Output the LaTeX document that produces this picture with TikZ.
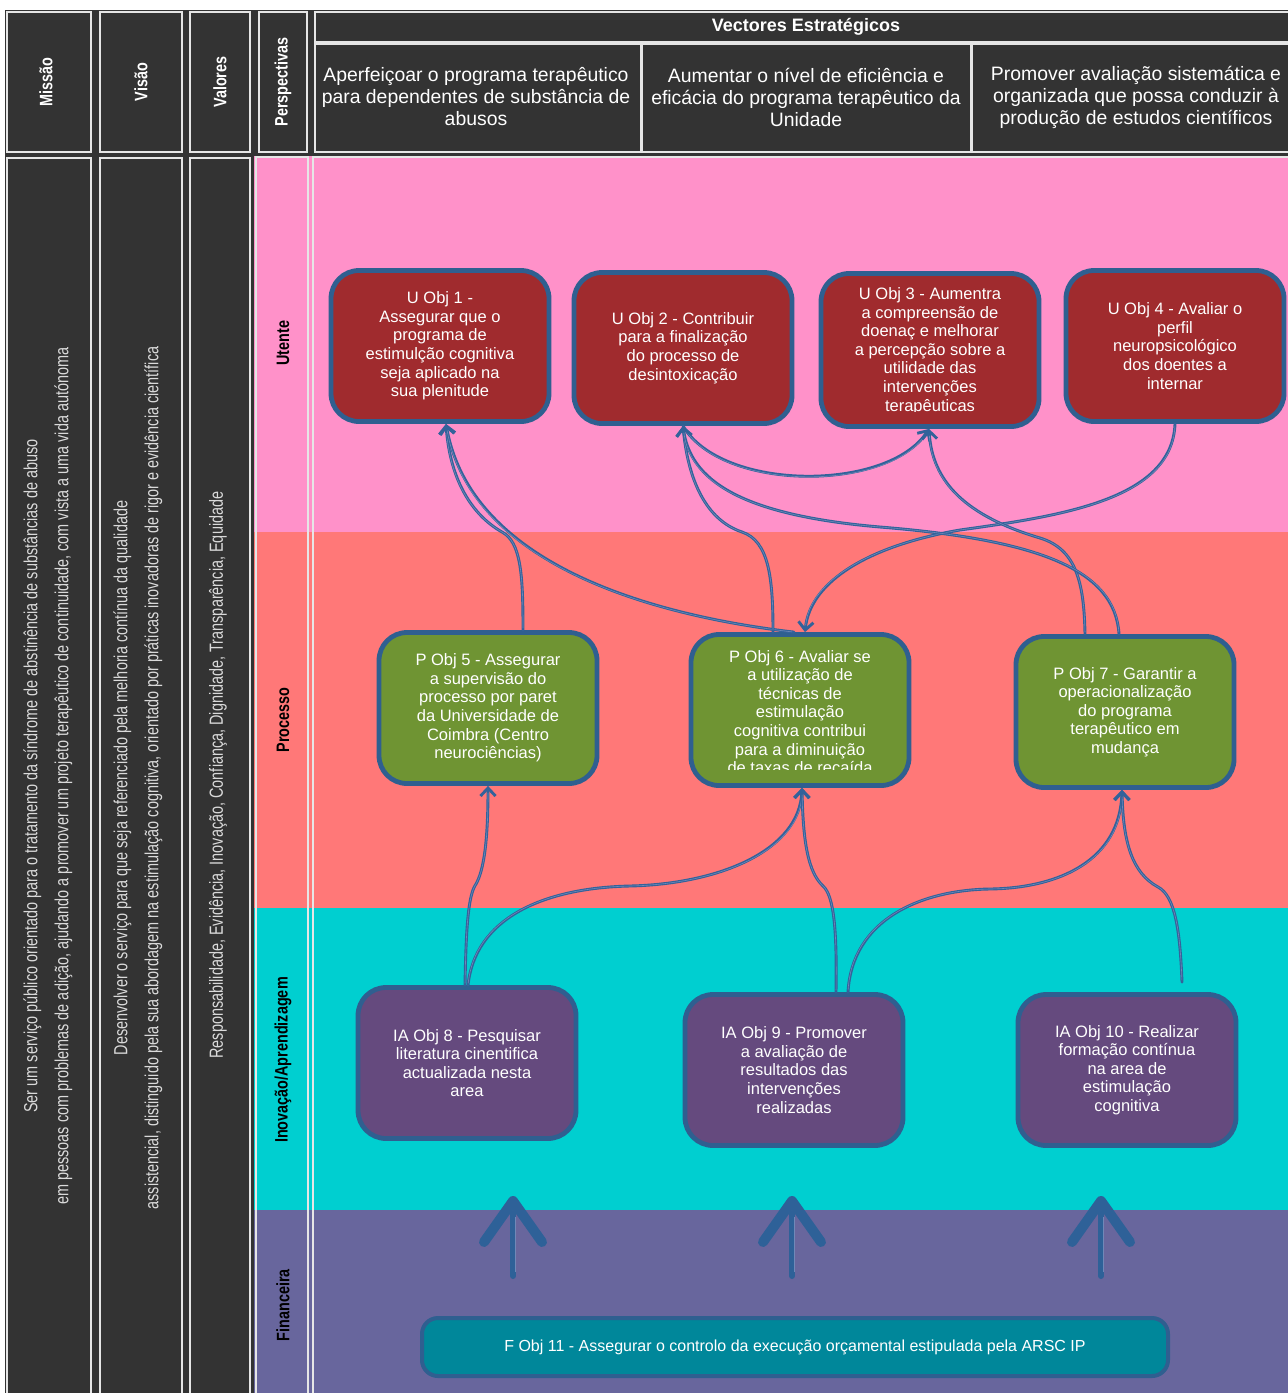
\documentclass[tikz,border=0pt]{standalone}
\usepackage{fontspec}
\setmainfont{Liberation Sans}
\newfontfamily\condfont[FakeStretch=0.8]{Liberation Sans}
\newfontfamily\condbody[FakeStretch=0.76]{Liberation Sans}
\usetikzlibrary{arrows.meta,calc}

\definecolor{dark}{HTML}{333333}
\definecolor{cellline}{HTML}{E6E6E6}
\definecolor{bandpink}{HTML}{FF91C9}
\definecolor{bandsalmon}{HTML}{FF7878}
\definecolor{bandcyan}{HTML}{00CFD0}
\definecolor{bandpurple}{HTML}{68669D}
\definecolor{ured}{HTML}{A02B2E}
\definecolor{pgreen}{HTML}{6F9433}
\definecolor{iapurple}{HTML}{654A7E}
\definecolor{fteal}{HTML}{00879A}
\definecolor{bord}{HTML}{2F5F90}
\definecolor{linec}{HTML}{33629A}
\definecolor{linelight}{HTML}{7088B8}
\definecolor{bigarrow}{HTML}{2E6198}
\definecolor{graytext}{HTML}{DADADA}

\begin{document}
\begin{tikzpicture}[x=1pt,y=-1pt,
  cell/.style={draw=cellline,line width=1.6pt},
  headtxt/.style={text=white,align=center,font=\fontsize{19.4}{22}\selectfont},
  colhead/.style={rotate=90,text=white,font=\condfont\bfseries\fontsize{18}{20}\selectfont},
  perslab/.style={rotate=90,text=black,font=\condfont\bfseries\fontsize{18}{20}\selectfont},
  bodytxt/.style={rotate=90,text=graytext,align=center,font=\condbody\fontsize{19}{31}\selectfont},
  obj/.style={rectangle,rounded corners=28pt,draw=bord,line width=4.8pt,
    minimum width=218pt,minimum height=151pt,inner sep=0pt,
    text=white,align=center,font=\fontsize{16.5}{18.6}\selectfont},
  uobj/.style={obj,fill=ured},
  pobj/.style={obj,fill=pgreen},
  iaobj/.style={obj,fill=iapurple},
  fobj/.style={obj,fill=fteal,rounded corners=16pt,minimum width=746pt,minimum height=58pt,line width=4pt},
  objtext/.style={text=white,align=center,font=\fontsize{16.5}{18.6}\selectfont},
  conn/.style={draw=linec,line width=2.9pt,line cap=round,
    -{Straight Barb[length=8pt,width=15pt]},
    postaction={draw=linelight,line width=0.6pt,shorten >=7pt,shorten <=2pt,-}},
  bigshaft/.style={draw=bigarrow,line width=6pt,line cap=round},
  bighead/.style={draw=bigarrow,line width=10pt,line cap=round,line join=round}
]
\useasboundingbox (0,0) rectangle (1288,1393);
\fill[white] (0,0) rectangle (1288,1393);
\fill[dark] (5,10) rectangle (1290,1395);

% perspective bands
\fill[bandpink]   (254,156) rectangle (1290,532);
\fill[bandsalmon] (254,532) rectangle (1290,908);
\fill[bandcyan]   (254,908) rectangle (1290,1210);
\fill[bandpurple] (254,1210) rectangle (1290,1395);

% header cells
\draw[cell] (7,12) rectangle (91,152);
\draw[cell] (100,12) rectangle (182,152);
\draw[cell] (190,12) rectangle (250,152);
\draw[cell] (259,12) rectangle (307,152);
\draw[cell] (315,12) rectangle (1295,42);
\draw[cell] (315,44) rectangle (641,152);
\draw[cell] (642,44) rectangle (971,152);
\draw[cell] (972,44) rectangle (1295,152);

% body cells
\draw[cell] (7,158) rectangle (91,1398);
\draw[cell] (100,158) rectangle (182,1398);
\draw[cell] (190,158) rectangle (250,1398);
\draw[cell] (256,157) rectangle (308,1398);
\draw[cell] (313,157) rectangle (1295,1398);

% column titles
\node[colhead] (hmissao) at (46,82) {Missão};
\node[colhead] (hvisao) at (141,82) {Visão};
\node[colhead] (hvalores) at (220,82) {Valores};
\node[colhead] (hpersp) at (283,82) {Perspectivas};
\node[text=white,font=\bfseries\fontsize{18}{20}\selectfont] (hvect) at (806,27) {Vectores Estratégicos};
\node[headtxt] (v1) at (476,97) {Aperfeiçoar o programa terapêutico\\para dependentes de substância de\\abusos};
\node[headtxt] (v2) at (806,97) {Aumentar o nível de eficiência e\\eficácia do programa terapêutico da\\Unidade};
\node[headtxt] (v3) at (1136,97) {Promover avaliação sistemática e\\organizada que possa conduzir à\\produção de estudos científicos};

% mission, vision, values
\node[bodytxt] (missao) at (48,776) {Ser um serviço público orientado para o tratamento da síndrome de abstinência de substâncias de abuso\\em pessoas com problemas de adição, ajudando a promover um projeto terapêutico de continuidade, com vista a uma vida autónoma};
\node[bodytxt] (visao) at (138,778) {Desenvolver o serviço para que seja referenciado pela melhoria contínua da qualidade\\assistencial, distinguido pela sua abordagem na estimulação cognitiva, orientado por práticas inovadoras de rigor e evidência científica};
\node[bodytxt] (valores) at (218,775) {Responsabilidade, Evidência, Inovação, Confiança, Dignidade, Transparência, Equidade};

% perspective labels
\node[perslab] (putente) at (283,343) {Utente};
\node[perslab] (pprocesso) at (283,720) {Processo};
\node[perslab] (pinov) at (283,1060) {Inovação/Aprendizagem};
\node[perslab] (pfin) at (283,1305) {Financeira};

% objectives
\node[uobj] (u1) at (440,346) {U Obj 1  -\\Assegurar que o\\programa de\\estimulção cognitiva\\seja aplicado na\\sua plenitude};
\node[uobj] (u2) at (683,348) {U Obj 2 - Contribuir\\para a finalização\\do processo de\\desintoxicação};
\node[uobj,minimum height=153pt] (u3) at (930,350) {};
\begin{scope}
  \clip ($(u3.south west)+(0,-17)$) rectangle (u3.north east);
  \node[objtext] (u3t) at (930,351) {U Obj 3 - Aumentra\\a compreensão de\\doenaç e melhorar\\a percepção sobre a\\utilidade das\\intervenções\\terapêuticas};
\end{scope}
\node[uobj] (u4) at (1175,346) {U Obj 4 - Avaliar o\\perfil\\neuropsicológico\\dos doentes a\\internar};

\node[pobj] (p5) at (488,708) {P Obj 5 - Assegurar\\a supervisão do\\processo por paret\\da Universidade de\\Coimbra (Centro\\neurociências)};
\node[pobj] (p6) at (800,710) {};
\begin{scope}
  \clip ($(p6.south west)+(0,-18)$) rectangle (p6.north east);
  \node[objtext] (p6t) at (800,712) {P Obj 6 - Avaliar se\\a utilização de\\técnicas de\\estimulação\\cognitiva  contribui\\para a diminuição\\de taxas de recaída};
\end{scope}
\node[pobj] (p7) at (1125,712) {P Obj 7 - Garantir a\\operacionalização\\do programa\\terapêutico em\\mudança};

\node[iaobj] (ia8) at (467,1063) {IA Obj 8 - Pesquisar\\literatura cinentifica\\actualizada nesta\\area};
\node[iaobj] (ia9) at (794,1070) {IA Obj 9 - Promover\\a avaliação de\\resultados das\\intervenções\\realizadas};
\node[iaobj] (ia10) at (1127,1070) {IA Obj 10 - Realizar\\formação contínua\\na area de\\estimulação\\cognitiva};

\node[fobj,font=\fontsize{16}{18}\selectfont] (f11) at (795,1347) {F Obj 11 - Assegurar o controlo da execução orçamental estipulada pela ARSC IP};

% connector end points
\coordinate (u1in) at ($(u1.south)+(6,0)$);
\coordinate (u2in) at (u2.south);
\coordinate (u3in) at ($(u3.south)+(-1,0)$);
\coordinate (u4out) at (u4.south);
\coordinate (p5out) at ($(p5.north)+(35,0)$);
\coordinate (p6in) at ($(p6.north)+(5,0)$);
\coordinate (p6outa) at ($(p6.north)+(-6,0)$);
\coordinate (p6outb) at ($(p6.north)+(-27,0)$);
\coordinate (p7outa) at ($(p7.north)+(-40,0)$);
\coordinate (p7outb) at ($(p7.north)+(-6,0)$);
\coordinate (p5in) at (p5.south);
\coordinate (p6inb) at ($(p6.south)+(2,0)$);
\coordinate (p7in) at ($(p7.south)+(-3,0)$);
\coordinate (ia8outa) at ($(ia8.north)+(-2,0)$);
\coordinate (ia8outb) at ($(ia8.north)+(1,0)$);
\coordinate (ia9outa) at ($(ia9.north)+(42,0)$);
\coordinate (ia9outb) at ($(ia9.north)+(54,0)$);
\coordinate (ia10out) at ($(ia10.north)+(55,-10)$);

% process -> client
\draw[conn] (p5out) .. controls (523,575) and (521,542) .. (502,532)
  .. controls (472,515) and (450,480) .. (u1in);
\draw[conn] (p6outa) .. controls (640,614) and (470,560) .. (u1in);
\draw[conn] (p6outb) .. controls (773,578) and (769,541) .. (742,532)
  .. controls (706,520) and (688,480) .. (u2in);
\draw[conn] (u4out) .. controls (1172,500) and (1060,516) .. (960,530)
  .. controls (872,545) and (810,580) .. (p6in);
\draw[conn] (u2in) .. controls (722,492) and (888,492) .. (u3in);
\draw[conn] (p7outa) .. controls (1084,582) and (1076,549) .. (1040,538)
  .. controls (966,516) and (932,482) .. (u3in);
\draw[conn] (p7outb) .. controls (1115,570) and (1040,540) .. (880,527)
  .. controls (740,515) and (690,480) .. (u2in);

% learning -> process
\draw[conn] (ia8outa) .. controls (466,930) and (468,895) .. (476,884)
  .. controls (484,870) and (488,840) .. (p5in);
\draw[conn] (ia8outb) .. controls (475,920) and (540,888) .. (630,886)
  .. controls (720,884) and (800,850) .. (p6inb);
\draw[conn] (ia9outa) .. controls (837,930) and (834,896) .. (823,886)
  .. controls (808,872) and (803,842) .. (p6inb);
\draw[conn] (ia9outb) .. controls (852,920) and (920,890) .. (990,889)
  .. controls (1060,888) and (1120,860) .. (p7in);
\draw[conn] (ia10out) .. controls (1180,930) and (1175,896) .. (1158,887)
  .. controls (1132,873) and (1123,842) .. (p7in);

% financial support arrows
\foreach \x/\n in {513/a,792/b,1101/c}{
  \coordinate (fbase\n) at (\x,1276);
  \coordinate (ftip\n) at (\x,1201);
  \draw[bigshaft] (fbase\n) -- ($(ftip\n)+(0,12)$);
  \draw[linelight,line width=0.8pt] ($(fbase\n)+(2,-4)$) -- ($(ftip\n)+(2,16)$);
  \draw[bighead] ($(ftip\n)+(-29,41)$) -- (ftip\n) -- ($(ftip\n)+(29,41)$);
}
\end{tikzpicture}
\end{document}
